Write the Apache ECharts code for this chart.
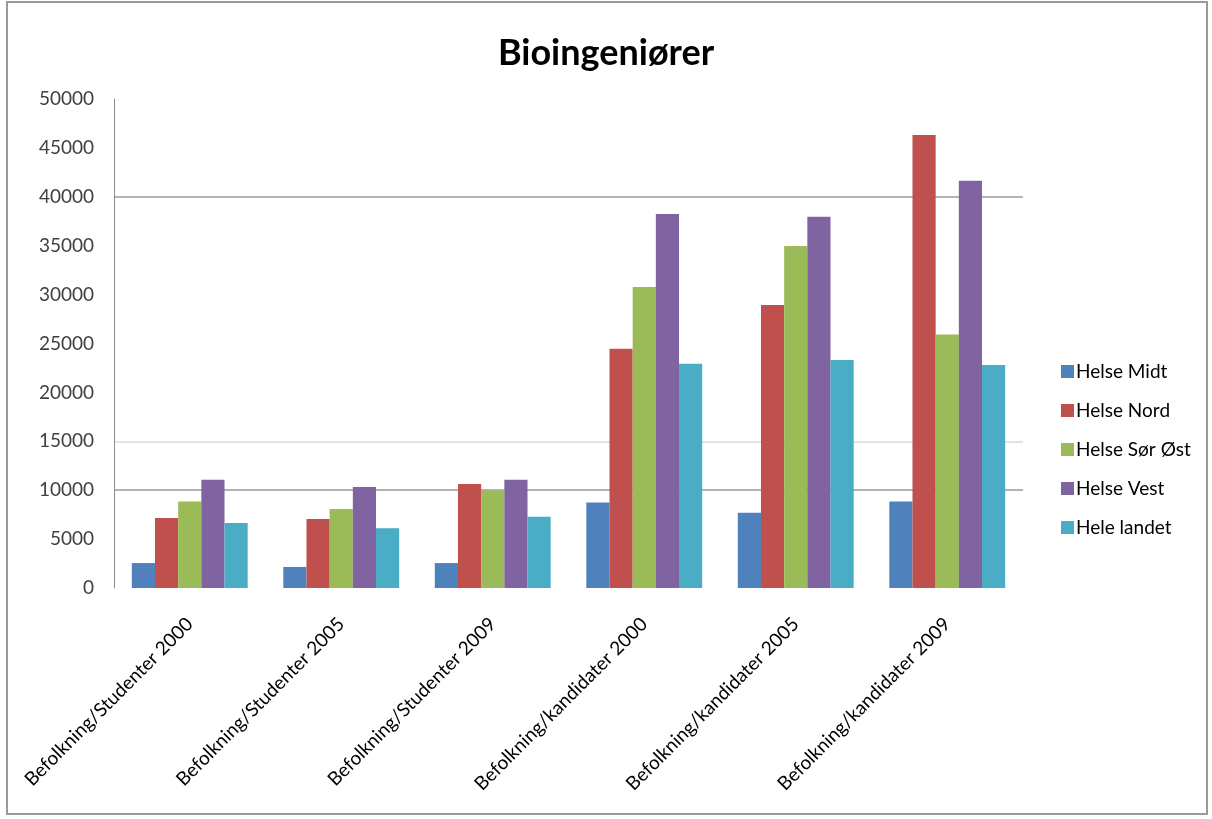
<!DOCTYPE html>
<html>
<head>
<meta charset="utf-8">
<script src="https://cdn.jsdelivr.net/npm/echarts@6/dist/echarts.min.js"></script>
<style>
html,body{margin:0;padding:0;background:#fff;}
#chart{width:1212px;height:819px;}
</style>
</head>
<body>
<div id="chart"></div>
<script>
const categories = [
  "Befolkning/Studenter 2000",
  "Befolkning/Studenter 2005",
  "Befolkning/Studenter 2009",
  "Befolkning/kandidater 2000",
  "Befolkning/kandidater 2005",
  "Befolkning/kandidater 2009"
];
const helseMidt   = [2550, 2150, 2550, 8750, 7700, 8850];
const helseNord   = [7150, 7050, 10630, 24470, 28940, 46320];
const helseSorOst = [8850, 8080, 9980, 30780, 34970, 25930];
const helseVest   = [11070, 10330, 11070, 38240, 37970, 41650];
const heleLandet  = [6650, 6100, 7290, 22940, 23310, 22800];
const seriesNames = ["Helse Midt", "Helse Nord", "Helse Sør Øst", "Helse Vest", "Hele landet"];
const seriesData = [helseMidt, helseNord, helseSorOst, helseVest, heleLandet];
const colors = ["#4F81BD", "#C0504D", "#9BBB59", "#8064A2", "#4BACC6"];

const chart = echarts.init(document.getElementById('chart'), null, {renderer: 'canvas'});
const font = 'Lato, "Open Sans", sans-serif';
const T = 'rgba(0,0,0,0)';
chart.setOption({
  animation: false,
  backgroundColor: '#fff',
  color: colors,
  textStyle: {fontFamily: font},
  title: {
    text: 'Bioingeniører',
    left: 'center',
    top: 30,
    textStyle: {fontFamily: font, fontSize: 36, fontWeight: 'bold', color: '#000'}
  },
  legend: {
    orient: 'vertical',
    left: 1056,
    top: 357,
    itemWidth: 13,
    itemHeight: 13,
    itemGap: 20,
    icon: 'rect',
    textStyle: {fontFamily: font, fontSize: 19, color: '#000', padding: [0, 0, 0, -3]},
    data: seriesNames
  },
  grid: {left: 114, right: 189, top: 99, bottom: 231, containLabel: false},
  xAxis: {
    type: 'category',
    data: categories,
    axisLine: {show: false},
    axisTick: {show: false},
    axisLabel: {
      rotate: 45,
      margin: 33,
      interval: 0,
      fontFamily: font,
      fontSize: 19,
      color: '#000'
    }
  },
  yAxis: {
    type: 'value',
    min: 0,
    max: 50000,
    interval: 5000,
    axisLine: {show: true, lineStyle: {color: '#8c8c8c', width: 1}},
    axisTick: {show: false},
    axisLabel: {margin: 20, fontFamily: font, fontSize: 19, color: '#404040', formatter: v => String(v)},
    splitLine: {
      show: true,
      lineStyle: {
        width: 1.5,
        color: [T, T, '#9a9a9a', '#d8d8d8', T, T, T, T, '#9a9a9a', T, T]
      }
    }
  },
  graphic: [{
    type: 'rect',
    shape: {x: 7, y: 2, width: 1200, height: 812},
    style: {fill: 'none', stroke: '#9a9a9a', lineWidth: 2},
    silent: true
  }],
  series: seriesNames.map((name, i) => ({
    name: name,
    type: 'bar',
    data: seriesData[i],
    barGap: '0%',
    barCategoryGap: '23.5%',
    itemStyle: {color: colors[i]}
  }))
});
</script>
</body>
</html>
